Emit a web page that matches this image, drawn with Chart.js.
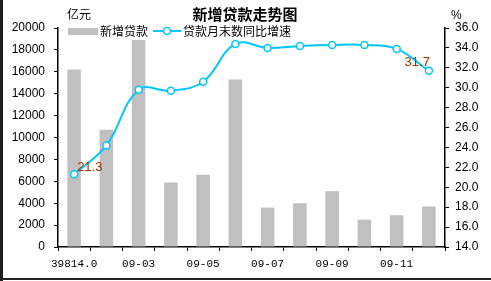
<!DOCTYPE html>
<html lang="zh">
<head>
<meta charset="UTF-8">
<script src="https://cdn.jsdelivr.net/npm/chart.js@4.4.0/dist/chart.umd.min.js"></script>
<title>新增贷款走势图</title>
<style>
  body { margin: 0; background: #fff; }
  #wrap { position: relative; width: 491px; height: 281px; overflow: hidden; }
  #chart { position: absolute; left: 0; top: 0; }
  .edge-left { position: absolute; left: 0; top: 0; width: 3px; height: 281px; background: #1e1e1e; }
  .edge-bottom { position: absolute; left: 0; top: 278px; width: 491px; height: 2px; background: #222; }
</style>
</head>
<body>
<div id="wrap">
  <canvas id="chart" width="491" height="281"></canvas>
  <div class="edge-left"></div>
  <div class="edge-bottom"></div>
</div>

<script>
// months of 2009, only every other one gets a label on the axis
const months = ['39814.0', '09-02', '09-03', '09-04', '09-05', '09-06', '09-07', '09-08', '09-09', '09-10', '09-11', '09-12'];
// new loans, 100 million yuan (left axis)
const newLoans = [16200, 10700, 18900, 5900, 6600, 15300, 3600, 4000, 5100, 2500, 2900, 3700];
// loan balance growth yoy, % (right axis)
const loanGrowth = [21.3, 24.2, 29.8, 29.7, 30.6, 34.4, 34.0, 34.2, 34.3, 34.3, 33.9, 31.7];
const loanTicks = [0, 2000, 4000, 6000, 8000, 10000, 12000, 14000, 16000, 18000, 20000];
const growthTicks = [14, 16, 18, 20, 22, 24, 26, 28, 30, 32, 34, 36];

const numFont = { family: 'Liberation Sans', size: 12 };
const cjk = '"Noto Sans CJK SC", sans-serif';

// title, units, legend and the two value labels
const decorations = {
  id: 'decorations',
  afterDraw(chart) {
    const ctx = chart.ctx;
    ctx.save();
    ctx.fillStyle = '#000';
    ctx.textBaseline = 'middle';
    ctx.font = 'bold 15px ' + cjk;
    ctx.textAlign = 'center';
    ctx.fillText('新增贷款走势图', 245, 14);
    ctx.font = '12px ' + cjk;
    ctx.textAlign = 'left';
    ctx.fillText('亿元', 67, 14);
    ctx.font = '12px Liberation Sans';
    ctx.fillText('%', 451, 16);

    // legend
    ctx.font = '12px ' + cjk;
    ctx.fillStyle = '#c0c0c0';
    ctx.fillRect(68, 28, 30, 7);
    ctx.fillStyle = '#000';
    ctx.fillText('新增贷款', 100, 31);
    ctx.strokeStyle = '#00c8ff';
    ctx.lineWidth = 2;
    ctx.beginPath();
    ctx.moveTo(153, 31);
    ctx.lineTo(181, 31);
    ctx.stroke();
    ctx.beginPath();
    ctx.arc(167, 31, 3.5, 0, Math.PI * 2);
    ctx.fillStyle = '#fff';
    ctx.fill();
    ctx.lineWidth = 1.5;
    ctx.stroke();
    ctx.fillStyle = '#000';
    ctx.fillText('贷款月末数同比增速', 183, 31);

    // first and last growth values, taken from the line's points
    const pts = chart.getDatasetMeta(0).data;
    const last = pts.length - 1;
    ctx.fillStyle = '#993300';
    ctx.font = '13px Liberation Sans';
    ctx.textAlign = 'left';
    ctx.fillText(loanGrowth[0].toFixed(1), pts[0].x + 3, pts[0].y - 7);
    ctx.textAlign = 'right';
    ctx.fillText(loanGrowth[last].toFixed(1), pts[last].x + 1, pts[last].y - 8);
    ctx.restore();
  }
};

new Chart(document.getElementById('chart'), {
  data: {
    labels: months,
    datasets: [
      {
        type: 'line',
        label: '贷款月末数同比增速',
        data: loanGrowth,
        yAxisID: 'y1',
        borderColor: '#00c8ff',
        borderWidth: 2,
        tension: 0.4,
        pointRadius: 3.5,
        pointBackgroundColor: '#fff',
        pointBorderColor: '#00c8ff',
        pointBorderWidth: 1.5,
        order: 0
      },
      {
        type: 'bar',
        label: '新增贷款',
        data: newLoans,
        yAxisID: 'y',
        backgroundColor: '#c0c0c0',
        barPercentage: 0.42,
        categoryPercentage: 1,
        order: 1
      }
    ]
  },
  options: {
    responsive: false,
    animation: false,
    layout: { padding: { top: 28, left: 0, right: 0, bottom: 0 } },
    plugins: { legend: { display: false }, title: { display: false }, tooltip: { enabled: false } },
    scales: {
      x: {
        offset: true,
        grid: { offset: true, drawOnChartArea: false, drawTicks: true, tickLength: 4, color: '#000' },
        border: { color: '#000', width: 1.5 },
        ticks: {
          autoSkip: false, maxRotation: 0, padding: 6, color: '#000',
          font: { family: 'Liberation Mono', size: 11 },
          callback: (v, i) => (i % 2 === 0 ? months[i] : '')
        },
        afterFit: s => { s.height = 34; }
      },
      y: {
        position: 'left',
        min: 0, max: 20000,
        afterBuildTicks: s => { s.ticks = loanTicks.map(v => ({ value: v })); },
        grid: { drawOnChartArea: false, tickLength: 4, color: '#000' },
        border: { color: '#000', width: 1.5 },
        ticks: { color: '#000', font: numFont, padding: 9, callback: v => String(v) },
        afterFit: s => { s.width = 58; }
      },
      y1: {
        position: 'right',
        min: 14, max: 36,
        afterBuildTicks: s => { s.ticks = growthTicks.map(v => ({ value: v })); },
        grid: { drawOnChartArea: false, tickLength: 4, color: '#000' },
        border: { color: '#000', width: 1.5 },
        ticks: { color: '#000', font: numFont, padding: 6, callback: v => Number(v).toFixed(1) },
        afterFit: s => { s.width = 46; }
      }
    }
  },
  plugins: [decorations]
});
</script>
</body>
</html>
